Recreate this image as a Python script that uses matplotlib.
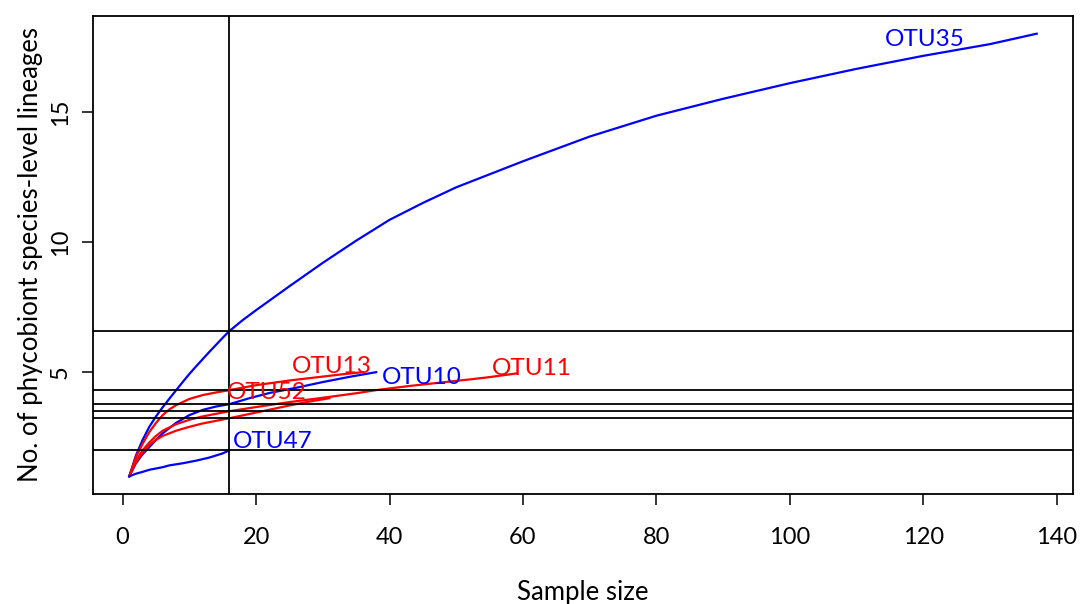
import matplotlib
matplotlib.use('Agg')
import matplotlib.pyplot as plt

# rarefaction curves (sample size -> expected no. of lineages)
otu35_n = [1, 2, 3, 4, 5, 6, 7, 8, 9, 10, 11, 12, 13, 14, 15, 16, 18, 20, 25, 30,
           35, 40, 45, 50, 55, 60, 70, 80, 90, 100, 110, 120, 130, 137]
otu35_s = [1.0, 1.8, 2.4, 2.9, 3.3, 3.65, 3.98, 4.3, 4.62, 4.93, 5.22, 5.5, 5.78,
           6.05, 6.32, 6.58, 7.0, 7.38, 8.3, 9.2, 10.05, 10.85, 11.5, 12.1, 12.6,
           13.1, 14.05, 14.85, 15.5, 16.1, 16.65, 17.15, 17.6, 18.0]

otu13_n = [1, 2, 3, 4, 5, 6, 7, 8, 10, 12, 14, 16, 20, 25, 30, 33, 36]
otu13_s = [1.0, 1.75, 2.25, 2.7, 3.05, 3.35, 3.57, 3.73, 3.97, 4.12, 4.22, 4.31,
           4.5, 4.68, 4.83, 4.92, 5.0]

otu10_n = [1, 2, 3, 4, 5, 6, 8, 10, 12, 14, 16, 19, 22, 26, 30, 34, 38]
otu10_s = [1.0, 1.5, 1.85, 2.12, 2.4, 2.65, 3.05, 3.35, 3.55, 3.68, 3.77, 4.0, 4.2,
           4.4, 4.62, 4.82, 5.0]

otu11_n = [1, 2, 3, 4, 5, 6, 8, 10, 12, 14, 16, 20, 25, 31, 35, 38, 43, 48, 52, 55, 59]
otu11_s = [1.0, 1.6, 2.0, 2.3, 2.55, 2.75, 3.0, 3.17, 3.3, 3.4, 3.5, 3.66, 3.85,
           4.05, 4.19, 4.31, 4.47, 4.61, 4.72, 4.81, 4.95]

otu52_n = [1, 2, 3, 4, 5, 6, 8, 10, 12, 14, 16, 20, 25, 28, 31]
otu52_s = [1.0, 1.55, 1.9, 2.2, 2.4, 2.55, 2.75, 2.9, 3.03, 3.13, 3.23, 3.45,
           3.72, 3.87, 4.0]

otu47_n = [1, 2, 3, 4, 5, 6, 7, 8, 9, 10, 11, 12, 13, 14, 15, 16]
otu47_s = [1.0, 1.1, 1.17, 1.25, 1.3, 1.35, 1.42, 1.46, 1.5, 1.55, 1.6, 1.66,
           1.72, 1.8, 1.88, 2.0]

# rarefied richness at the common sample size (horizontal reference lines)
rare_size = 16
rare_values = [6.58, 4.31, 3.77, 3.5, 3.23, 2.0]

curves = [
    ('OTU35', otu35_n, otu35_s, 'blue'),
    ('OTU13', otu13_n, otu13_s, 'red'),
    ('OTU10', otu10_n, otu10_s, 'blue'),
    ('OTU11', otu11_n, otu11_s, 'red'),
    ('OTU52', otu52_n, otu52_s, 'red'),
    ('OTU47', otu47_n, otu47_s, 'blue'),
]

# label anchor (left, baseline) in data units
label_pos = {
    'OTU35': (114.2, 17.53),
    'OTU13': (25.4, 4.98),
    'OTU10': (38.9, 4.56),
    'OTU11': (55.4, 4.90),
    'OTU52': (15.6, 3.98),
    'OTU47': (16.5, 2.10),
}

plt.rcParams['font.family'] = ['Lato', 'DejaVu Sans']

fig = plt.figure(figsize=(10.8, 6.04), dpi=100)
ax = fig.add_axes([93 / 1080, 1 - 494 / 604, 980 / 1080, 478 / 604])

for name, n, s, col in curves:
    ax.plot(n, s, color=col, linewidth=1.6, solid_joinstyle='round')
    lx, ly = label_pos[name]
    ax.text(lx, ly, name, color=col, fontsize=17.5, ha='left', va='baseline')

# reference lines at the rarefied sample size
ax.axvline(rare_size, color='black', linewidth=1.3)
for v in rare_values:
    ax.axhline(v, color='black', linewidth=1.3)

# R-style 4% padding around the data range
ax.set_xlim(1 - 136 * 0.04, 137 + 136 * 0.04)
ax.set_ylim(1 - 17 * 0.04, 18 + 17 * 0.04)

ax.set_xticks([0, 20, 40, 60, 80, 100, 120, 140])
ax.set_yticks([5, 10, 15])
ax.tick_params(axis='both', direction='out', length=8, width=1.1, labelsize=17)
ax.tick_params(axis='x', pad=16)
ax.tick_params(axis='y', pad=8)
for lab in ax.get_yticklabels():
    lab.set_rotation(90)
    lab.set_va('center')

for sp in ax.spines.values():
    sp.set_linewidth(1.3)

ax.set_xlabel('Sample size', fontsize=18.5, labelpad=23)
ax.set_ylabel('No. of phycobiont species-level lineages', fontsize=18.5, labelpad=5)

fig.savefig('out.png', dpi=100)
